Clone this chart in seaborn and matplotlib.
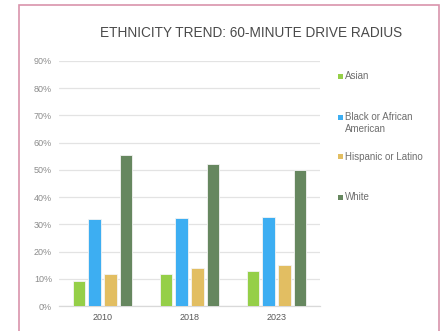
import matplotlib
matplotlib.use("Agg")
import matplotlib.pyplot as plt
from matplotlib.patches import Rectangle
from matplotlib.ticker import PercentFormatter
import seaborn as sns
import pandas as pd

years = ["2010", "2018", "2023"]
groups = ["Asian", "Black or African American", "Hispanic or Latino", "White"]
asian = [9.3, 11.6, 13.0]
black = [31.9, 32.5, 32.7]
hispanic = [11.6, 13.8, 15.2]
white = [55.4, 52.2, 50.0]
colors = ["#95CF48", "#3DAEF2", "#E2BE62", "#66875F"]
legend_labels = ["Asian", "Black or African\nAmerican", "Hispanic or Latino", "White"]

rows = []
for g, vals in zip(groups, [asian, black, hispanic, white]):
    for y, v in zip(years, vals):
        rows.append({"Year": y, "Group": g, "Share": v})
df = pd.DataFrame(rows)

sns.set_theme(style="white")
plt.rcParams["font.family"] = ["Liberation Sans", "DejaVu Sans"]

W, H = 443, 331
fig = plt.figure(figsize=(W / 100, H / 100), dpi=100)
fig.patch.set_facecolor("white")

# chart frame
fig.patches.append(Rectangle((19 / W, -0.05), 420 / W, 1.05 - 5 / H,
                             transform=fig.transFigure, fill=False,
                             edgecolor="#D994AC", linewidth=1.2))

ax = fig.add_axes([59 / W, (H - 306) / H, 261 / W, 245 / H])
palette = dict(zip(groups, colors))
sns.barplot(data=df, x="Year", y="Share", hue="Group", hue_order=groups,
            palette=palette, width=0.72, gap=0.18, saturation=1,
            edgecolor="#F4F4F4", linewidth=0.6, legend=False, ax=ax, zorder=3)

ax.set_ylim(0, 90)
ax.set_yticks(range(0, 91, 10))
ax.yaxis.set_major_formatter(PercentFormatter(decimals=0))
ax.grid(axis="y", color="#E3E3E3", linewidth=0.9, zorder=0)
for s in ["top", "right", "left"]:
    ax.spines[s].set_visible(False)
ax.spines["bottom"].set_color("#D9D9D9")
ax.spines["bottom"].set_linewidth(0.9)
ax.tick_params(axis="y", length=0, labelsize=6.5, labelcolor="#8C8C8C", pad=5)
ax.tick_params(axis="x", length=0, labelsize=6.5, labelcolor="#595959", pad=5)
ax.set_xlabel("")
ax.set_ylabel("")

fig.text(251 / W, 1 - 33 / H, "ETHNICITY TREND: 60-MINUTE DRIVE RADIUS",
         ha="center", va="center", fontsize=9.8, color="#4A4A4A")

# legend entries, evenly spaced; multi-line labels continue below their marker
legend_y = [76, 117, 157, 197]
for lab, col, yy in zip(legend_labels, colors, legend_y):
    fig.patches.append(Rectangle((337.5 / W, 1 - (yy + 2.5) / H), 5 / W, 5 / H,
                                 transform=fig.transFigure, facecolor=col,
                                 edgecolor="none"))
    for i, line in enumerate(lab.split("\n")):
        fig.text(345 / W, 1 - (yy + i * 12) / H, line, ha="left", va="center",
                 fontsize=7, color="#6E6E6E")

fig.savefig("out.png", dpi=100)
